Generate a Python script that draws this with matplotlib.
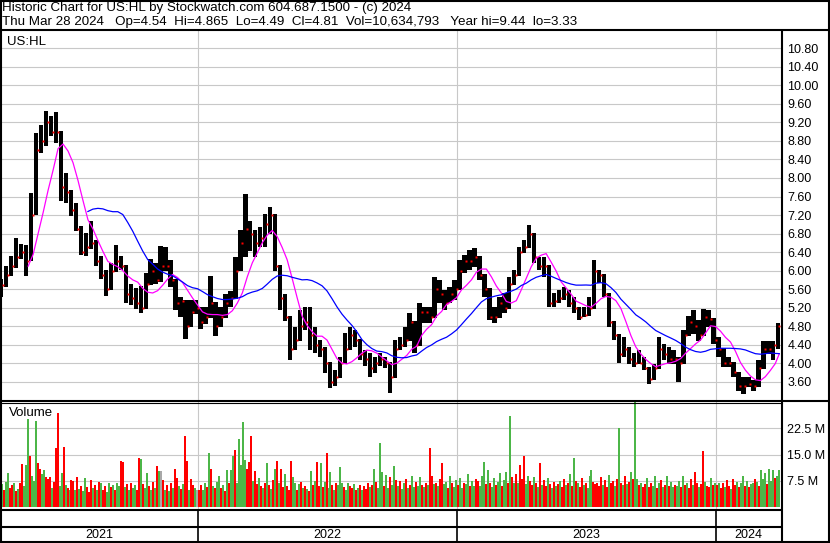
import numpy as np
import pandas as pd
import matplotlib
matplotlib.use('Agg')
import matplotlib.pyplot as plt

plt.rcParams['font.family'] = ['Liberation Sans', 'DejaVu Sans']

W, H = 830, 543

# one weekday = one pixel column on this chart
days = pd.bdate_range('2021-03-29', '2024-03-28')

# weekly bars (5 weekdays each)
week_hi = [5.81, 6.10, 6.31, 6.71, 6.57, 6.55, 7.68, 8.97, 9.15, 9.44,
           9.33, 9.43, 9.02, 8.11, 7.75, 7.46, 6.96, 6.82, 7.07, 6.67,
           6.31, 6.02, 6.17, 6.56, 6.31, 6.12, 5.70, 5.63, 5.66, 5.95,
           6.25, 6.17, 6.54, 6.50, 6.22, 5.82, 5.43, 5.37, 5.36, 5.36,
           5.21, 5.21, 5.89, 5.32, 5.21, 5.50, 5.57, 6.29, 6.87, 7.66,
           7.08, 6.87, 6.94, 7.23, 7.37, 7.22, 6.12, 5.50, 5.02, 4.78,
           5.14, 5.21, 5.21, 4.79, 4.50, 4.36, 4.02, 3.85, 4.14, 4.65,
           4.79, 4.72, 4.52, 4.29, 4.21, 4.14, 4.21, 4.14, 4.02, 4.50,
           4.57, 4.79, 5.08, 4.92, 5.29, 5.22, 5.22, 5.87, 5.80, 5.58,
           5.65, 5.80, 6.23, 6.34, 6.44, 6.48, 6.32, 5.92, 5.62, 5.22,
           5.44, 5.51, 5.87, 6.01, 6.52, 6.66, 6.98, 6.82, 6.30, 6.30,
           6.12, 5.51, 5.58, 5.65, 5.58, 5.44, 5.22, 5.22, 5.44, 6.23,
           6.01, 5.92, 5.52, 4.92, 4.62, 4.57, 4.35, 4.21, 4.28, 4.13,
           3.92, 3.99, 4.57, 4.42, 4.35, 4.28, 4.13, 4.71, 5.03, 5.14,
           4.93, 5.18, 5.14, 4.97, 4.57, 4.32, 4.13, 4.02, 3.82, 3.70,
           3.70, 3.63, 4.06, 4.49, 4.49, 4.49, 4.865]
week_lo = [5.43, 5.65, 5.88, 6.06, 6.24, 5.88, 6.20, 7.20, 8.54, 8.70,
           8.90, 8.75, 7.50, 7.46, 7.18, 6.85, 6.34, 6.31, 6.46, 6.10,
           5.81, 5.45, 5.58, 5.98, 6.02, 5.30, 5.26, 5.16, 5.09, 5.18,
           5.68, 5.70, 5.75, 6.00, 5.64, 5.14, 5.00, 4.53, 4.78, 5.07,
           4.74, 4.85, 4.98, 4.58, 4.78, 4.98, 5.21, 5.38, 6.00, 6.30,
           6.43, 6.29, 6.51, 6.51, 6.80, 6.00, 5.14, 4.92, 4.06, 4.28,
           4.48, 4.71, 4.28, 4.21, 4.14, 3.78, 3.46, 3.50, 3.68, 3.98,
           4.28, 4.36, 4.07, 3.93, 3.71, 3.78, 3.93, 3.90, 3.36, 3.68,
           4.29, 4.36, 4.48, 4.21, 4.38, 4.86, 4.86, 4.98, 5.29, 5.15,
           5.29, 5.37, 5.58, 5.94, 6.01, 6.08, 5.80, 5.44, 4.93, 4.86,
           4.98, 5.08, 5.18, 5.68, 5.88, 6.37, 6.48, 6.16, 6.01, 5.87,
           5.22, 5.22, 5.29, 5.37, 5.22, 5.08, 4.93, 5.00, 5.03, 5.18,
           5.73, 5.44, 4.79, 4.50, 4.00, 4.13, 3.99, 3.92, 3.99, 3.85,
           3.56, 3.63, 3.88, 4.06, 3.99, 3.99, 3.59, 3.98, 4.58, 4.64,
           4.49, 4.58, 4.78, 4.42, 4.13, 3.92, 3.92, 3.70, 3.41, 3.33,
           3.49, 3.41, 3.48, 3.88, 4.20, 4.06, 4.30]
week_cl = [5.68, 5.90, 6.10, 6.30, 6.40, 6.20, 7.20, 8.60, 8.80, 9.20,
           9.00, 9.00, 7.80, 7.70, 7.30, 6.90, 6.40, 6.50, 6.60, 6.20,
           5.90, 5.60, 6.00, 6.20, 6.10, 5.50, 5.40, 5.30, 5.20, 5.70,
           6.00, 5.80, 6.10, 6.10, 5.80, 5.30, 5.35, 4.80, 5.10, 5.20,
           4.90, 5.00, 5.30, 4.80, 5.00, 5.30, 5.40, 6.00, 6.60, 6.90,
           6.80, 6.60, 6.70, 7.00, 7.20, 6.10, 5.40, 5.00, 4.30, 4.50,
           4.80, 4.90, 4.60, 4.40, 4.30, 4.00, 3.60, 3.70, 4.00, 4.30,
           4.60, 4.50, 4.20, 4.10, 3.90, 4.00, 4.10, 4.00, 3.70, 4.30,
           4.40, 4.50, 4.90, 4.40, 5.10, 5.10, 5.00, 5.60, 5.50, 5.30,
           5.50, 5.60, 6.00, 6.20, 6.20, 6.30, 5.90, 5.60, 5.00, 5.00,
           5.30, 5.20, 5.70, 5.90, 6.40, 6.50, 6.80, 6.30, 6.10, 6.10,
           5.30, 5.35, 5.40, 5.50, 5.30, 5.20, 5.00, 5.05, 5.20, 6.00,
           5.90, 5.50, 4.90, 4.60, 4.20, 4.30, 4.10, 4.00, 4.00, 3.90,
           3.65, 3.90, 4.30, 4.20, 4.10, 4.10, 4.00, 4.60, 4.90, 4.80,
           4.60, 5.00, 4.95, 4.50, 4.30, 4.00, 4.00, 3.80, 3.50, 3.50,
           3.55, 3.50, 3.90, 4.30, 4.30, 4.40, 4.81]

# volume in millions, one bar per 2 weekdays; r = down, g = up, n = unchanged
vol_m = [7.0, 6.5, 5.0, 7.2, 9.6, 5.5, 6.2, 7.0, 4.5, 5.2, 6.8, 12.3, 6.0, 12.0, 25.2, 14.6, 9.0, 7.5, 24.6, 12.5,
         10.9, 9.5, 10.6, 8.5, 8.0, 8.6, 5.5, 7.2, 16.8, 26.8, 6.0, 9.6, 17.3, 6.3, 5.5, 4.8, 7.8, 7.5, 5.0, 8.5,
         5.2, 6.0, 4.6, 8.2, 5.8, 4.2, 7.6, 5.5, 6.3, 4.8, 7.3, 6.8, 5.0, 6.0, 4.4, 7.0, 5.6, 6.2, 4.9, 7.0,
         6.0, 13.2, 12.8, 5.8, 6.5, 4.9, 7.0, 5.5, 6.2, 5.0, 14.1, 13.8, 6.6, 5.4, 9.6, 6.0, 4.8, 7.2, 5.5, 11.8,
         10.2, 10.2, 7.8, 5.0, 6.4, 4.6, 7.0, 5.3, 10.8, 8.2, 6.0, 5.2, 6.6, 20.2, 13.2, 5.0, 8.0, 6.4, 5.5, 4.8,
         5.0, 6.3, 4.8, 6.8, 5.6, 15.6, 10.9, 6.0, 5.4, 7.2, 8.9, 5.5, 6.2, 4.6, 10.6, 7.0, 10.6, 14.6, 16.3, 6.8,
         19.5, 11.9, 24.3, 13.4, 11.0, 12.9, 20.4, 7.5, 10.2, 6.5, 8.2, 6.0, 5.5, 7.0, 12.7, 6.4, 5.2, 7.8, 10.8, 13.3,
         7.0, 10.9, 5.6, 9.5, 6.1, 5.0, 13.2, 8.5, 6.8, 4.9, 6.5, 7.2, 5.4, 6.0, 5.2, 4.7, 10.4, 6.3, 7.5, 13.0,
         6.0, 12.7, 5.8, 7.2, 15.6, 5.5, 10.1, 6.3, 5.0, 7.0, 6.2, 11.5, 7.0, 5.6, 4.8, 7.0, 6.0, 5.4, 6.6, 5.0,
         5.5, 6.2, 4.8, 6.0, 5.2, 7.0, 5.8, 6.4, 11.0, 7.2, 5.5, 18.2, 10.1, 6.0, 9.2, 5.5, 8.6, 6.2, 11.6, 7.7,
         6.0, 7.5, 5.2, 6.8, 8.0, 5.5, 6.4, 9.0, 5.8, 7.2, 6.0, 8.5, 6.3, 5.6, 7.0, 6.2, 17.0, 9.0, 6.5, 7.0,
         6.0, 8.0, 12.5, 6.5, 7.2, 5.5, 9.0, 6.8, 5.8, 7.6, 6.2, 8.4, 5.4, 7.0, 6.6, 9.5, 5.9, 7.4, 6.1, 8.0,
         7.5, 6.0, 9.0, 13.0, 6.5, 10.5, 7.0, 5.8, 8.2, 6.4, 7.2, 9.8, 6.0, 7.6, 10.0, 6.8, 26.0, 8.5, 7.0, 9.5,
         7.0, 12.0, 8.0, 14.5, 6.5, 9.0, 7.4, 6.2, 8.6, 7.0, 5.8, 12.5, 6.4, 7.8, 6.0, 8.2, 6.6, 5.5, 7.2, 6.0,
         6.5, 7.4, 5.6, 8.0, 6.2, 7.0, 9.5, 6.0, 14.0, 7.5, 6.8, 5.8, 8.4, 6.2, 7.0, 5.5, 9.0, 10.5, 7.2, 6.5,
         7.0, 6.0, 8.5, 6.4, 7.8, 5.6, 9.2, 6.8, 7.4, 6.0, 8.0, 22.5, 7.0, 6.2, 9.0, 6.6, 7.2, 10.0, 8.0, 30.0,
         8.0, 6.2, 7.0, 5.8, 6.6, 8.4, 5.6, 7.0, 6.0, 9.0, 5.4, 6.8, 7.6, 5.8, 6.2, 8.8, 6.0, 7.2, 5.6, 6.4,
         6.0, 7.4, 5.8, 9.0, 6.4, 7.0, 5.5, 8.0, 6.2, 10.0, 7.0, 5.8, 6.6, 16.0, 7.2, 6.0, 5.6, 8.2, 6.4, 7.0,
         6.2, 7.0, 5.4, 6.8, 5.8, 7.6, 6.0, 5.2, 8.0, 6.4, 7.2, 5.6, 6.8, 9.0, 6.0, 7.4, 5.8, 6.6, 7.0, 8.0,
         7.2, 6.0, 10.5, 8.0, 9.8, 6.6, 11.0, 7.5, 10.6, 8.4, 9.0, 10.6]
vol_dir = ("ngrggrrgrgrrgggrgggr"
           "rggrrrgrrrggrgrgrrgr"
           "grggrrrgrgrgrrggrgrg"
           "grrgrgrggrrgrggrgrgr"
           "gnrgrgrgrrgrgrrgrrgn"
           "rrggrgrgrggrgrgrggrg"
           "ggggrrrgrrgrgrgrgrgr"
           "grrgrrrggrgrgrgrgrgr"
           "rgrgrggrgrgggrggrrgr"
           "grgrrrgrgrgggrggrggr"
           "grggrgrggrggrgrgrrgr"
           "grrggrgrggrggrggrggr"
           "rgggrgrggrggrggrgrgr"
           "grrrggrrgrgrgrrgrgrg"
           "rgrrgrgrgrgrrgrgggrr"
           "rrrgrrgrrgrgrgrgrgrg"
           "grgrrgrrggrgrgrgrggr"
           "ggrgrgrrgrrgrrgrrgrg"
           "rgrrgrrgrrgrggrgrggr"
           "grgggrgggrgg")

price_ticks = np.arange(3.6, 10.81, 0.4)
vol_ticks = [7.5, 15.0, 22.5]
vol_tick_labels = ['7.5 M', '15.0 M', '22.5 M']
years = [2021, 2022, 2023, 2024]

header1 = 'Historic Chart for US:HL by Stockwatch.com 604.687.1500 - (c) 2024'
header2 = ('Thu Mar 28 2024   Op=4.54  Hi=4.865  Lo=4.49  Cl=4.81  '
           'Vol=10,634,793   Year hi=9.44  lo=3.33')

fig = plt.figure(figsize=(W / 100, H / 100), dpi=100)


def px_axes(x0, y0, x1, y1, **kw):
    return fig.add_axes([x0 / W, 1 - y1 / H, (x1 - x0) / W, (y1 - y0) / H], **kw)


xlim = (1.74, 784.74)
idx = np.arange(len(days))
wk_start = idx[::5]
wk_end = np.minimum(wk_start + 4, idx[-1])
wk_mid = (wk_start + wk_end) / 2
bounds = [days.searchsorted(pd.Timestamp(f'{y}-01-01')) - 0.5 for y in years[1:]]
edges = [xlim[0]] + bounds + [xlim[1]]
grid_c = '#c8c8c8'

# price panel
ax = px_axes(1, 31, 781, 400)
ax.set_xlim(*xlim)
ax.set_ylim(3.205, 11.175)
ax.set_yticks(price_ticks)
ax.set_yticklabels([f'{t:.2f}' for t in price_ticks])
ax.yaxis.tick_right()
ax.tick_params(axis='y', length=0, pad=4.5, labelsize=9)
ax.set_xticks([])
ax.grid(axis='y', color=grid_c, lw=0.8)
for b in bounds:
    ax.axvline(b, color=grid_c, lw=0.8)
for s in ax.spines.values():
    s.set_visible(False)

hi = np.array(week_hi)
lo = np.array(week_lo)
ax.bar(wk_mid, hi - lo, bottom=lo, width=4.4, color='black', lw=0,
       antialiased=False, zorder=2)
ax.plot(wk_end, week_cl, ls='none', marker='s', ms=1.7, mfc='red', mec='none', zorder=3)

cl = pd.Series(week_cl)
ax.plot(wk_end, cl.rolling(6).mean(), color='#ff00ff', lw=0.9, zorder=4)
ax.plot(wk_end, cl.rolling(18).mean(), color='#0000ff', lw=0.9, zorder=4)
ax.text(8, 11.175 - 11 / 46.3, 'US:HL', transform=ax.transData, fontsize=9.5, va='center')

# volume panel
av = px_axes(1, 402, 781, 509)
av.set_xlim(*xlim)
av.set_ylim(-0.57, 30.06)
av.set_yticks(vol_ticks)
av.set_yticklabels(vol_tick_labels)
av.yaxis.tick_right()
av.tick_params(axis='y', length=0, pad=4.5, labelsize=9)
av.set_xticks([])
av.grid(axis='y', color=grid_c, lw=0.8)
for b in bounds:
    av.axvline(b, color=grid_c, lw=0.8)
for s in av.spines.values():
    s.set_visible(False)
cmap = {'r': '#ff0000', 'g': '#4cb648', 'n': '#a8a8a8'}
vx = idx[::2] + 0.5
av.bar(vx, vol_m, width=2.0, color=[cmap[c] for c in vol_dir], lw=0,
       antialiased=False, zorder=2)
av.text(0.01, 0.9, 'Volume', transform=av.transAxes, fontsize=9.5, va='center')

# date bands
for (y0, y1, lab) in [(510, 527, False), (527, 542, True)]:
    ab = px_axes(1, y0, 781, y1)
    ab.set_xlim(*xlim)
    ab.set_ylim(0, 1)
    ab.axis('off')
    for b in bounds:
        ab.axvline(b, color='black', lw=1.2)
    if lab:
        for i, y in enumerate(years):
            ab.text((edges[i] + edges[i + 1]) / 2, 0.45, str(y), ha='center',
                    va='center', fontsize=9)

# frame lines in pixel space
fr = fig.add_axes([0, 0, 1, 1], zorder=10)
fr.set_xlim(0, W)
fr.set_ylim(H, 0)
fr.axis('off')
fr.patch.set_alpha(0)
k = dict(color='black', lw=1.5, solid_capstyle='butt')
fr.plot([0, W], [0.8, 0.8], **k)
fr.plot([0, W], [H - 0.8, H - 0.8], **k)
fr.plot([0.8, 0.8], [0, H], **k)
fr.plot([W - 0.8, W - 0.8], [0, H], **k)
fr.plot([0, W], [30, 30], **k)
fr.plot([781.5, 781.5], [30, H], **k)
fr.plot([0, W], [400.5, 400.5], **k)
fr.plot([0, 781.5], [402.5, 402.5], color='black', lw=0.8)
fr.plot([0, 781.5], [509.5, 509.5], **k)
fr.plot([0, 781.5], [527, 527], **k)

fig.text(2 / W, 1 - 8 / H, header1, fontsize=9.6, va='center')
fig.text(2 / W, 1 - 21.5 / H, header2, fontsize=9.6, va='center')

fig.savefig('out.png', dpi=100)
